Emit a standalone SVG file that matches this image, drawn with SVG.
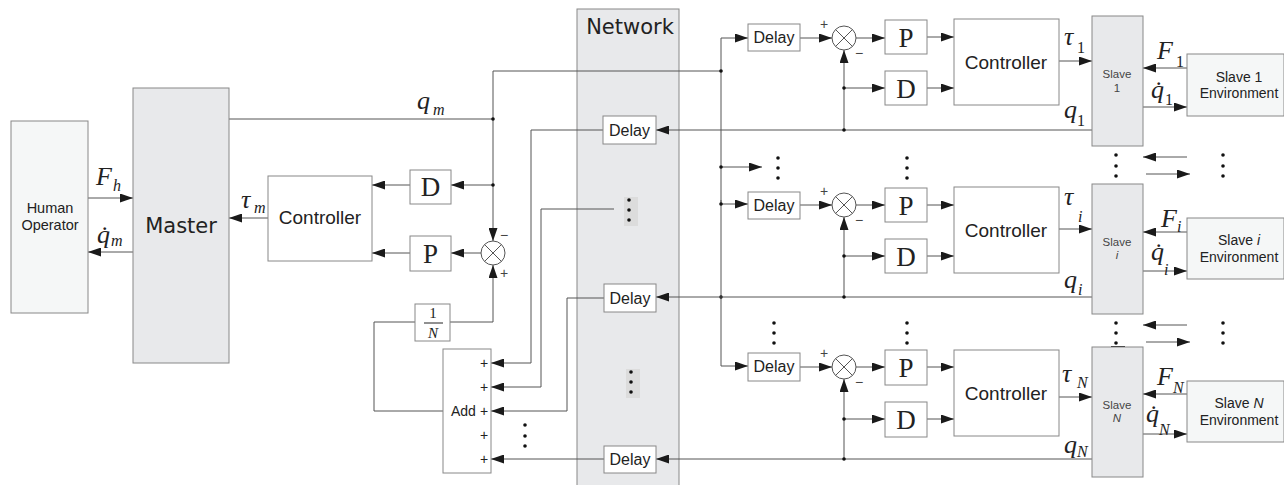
<svg xmlns="http://www.w3.org/2000/svg" width="1284" height="485" viewBox="0 0 1284 485">
<style>
.box{fill:#fff;stroke:#888;stroke-width:1}
.gbox{fill:#e8e9eb;stroke:#888;stroke-width:1}
.lbox{fill:#f5f7f7;stroke:#888;stroke-width:1}
.ln{fill:none;stroke:#555;stroke-width:1}
.arr{marker-end:url(#ah)}
.dot{fill:#111}
.sum{fill:#fff;stroke:#555;stroke-width:1}
.x{stroke:#555;stroke-width:1}
.t{font-family:"Liberation Sans",Arial,sans-serif;fill:#222}
.ctl{font-size:19px;text-anchor:middle}
.dl{font-size:16px;text-anchor:middle}
.big{font-family:"DejaVu Sans",Verdana,sans-serif;font-size:21px;text-anchor:middle;fill:#222}
.pd{font-family:"Liberation Serif","Times New Roman",serif;font-size:27px;text-anchor:middle;fill:#222}
.sm{font-size:11.5px;fill:#444;text-anchor:middle}
.env{font-size:14px;text-anchor:middle}
.ho{font-size:14.5px;text-anchor:middle}
.sg{font-family:"Liberation Sans",Arial,sans-serif;font-size:14px;fill:#444;text-anchor:middle}
.m{font-family:"Liberation Serif","Times New Roman",serif;font-style:italic;font-size:26px;fill:#222}
.sb{font-family:"Liberation Serif","Times New Roman",serif;font-style:italic;font-size:16px;fill:#222}
.sbn{font-family:"Liberation Serif","Times New Roman",serif;font-size:16px;fill:#222}
.frac{font-family:"Liberation Serif","Times New Roman",serif;font-size:15px;fill:#222;text-anchor:middle}
.dbg{fill:#dcdcdc}
</style>
<defs>
<marker id="ah" markerWidth="13" markerHeight="9" refX="13" refY="4.5" orient="auto" markerUnits="userSpaceOnUse"><path d="M0,0 L13,4.5 L0,9 z" fill="#1a1a1a"/></marker>
</defs>

<g id="network">
<rect class="gbox" x="577" y="9" width="102" height="481"/>
<text class="big" x="630" y="34">Network</text>
<rect class="dbg" x="624" y="197" width="14" height="29"/>
<circle class="dot" cx="629" cy="200" r="1.8"/><circle class="dot" cx="629" cy="210" r="1.8"/><circle class="dot" cx="629" cy="220" r="1.8"/>
<rect class="dbg" x="626" y="369" width="14" height="29"/>
<circle class="dot" cx="631" cy="372" r="1.8"/><circle class="dot" cx="631" cy="382" r="1.8"/><circle class="dot" cx="631" cy="392" r="1.8"/>
</g>

<g id="connectors">
<path class="ln arr" d="M88,198 H133"/>
<path class="ln arr" d="M133,252 H88"/>
<path class="ln arr" d="M268,218 H229"/>
<path class="ln" d="M229,119 H493"/>
<path class="ln" d="M721,71 H493 V119"/>
<path class="ln arr" d="M493,119 V241"/>
<path class="ln arr" d="M493,185 H451"/>
<path class="ln arr" d="M410,185 H372"/>
<path class="ln arr" d="M481,253 H451"/>
<path class="ln arr" d="M410,253 H372"/>
<path class="ln arr" d="M450,322 H493 V265"/>
<path class="ln" d="M443,411 H374 V322 H415"/>
<path class="ln arr" d="M603,130 H531 V363 H491"/>
<path class="ln arr" d="M614,209 H541 V387 H491"/>
<path class="ln arr" d="M604,298 H567 V411 H491"/>
<path class="ln arr" d="M604,459 H491"/>
<circle class="dot" cx="493" cy="119" r="1.8"/>
<circle class="dot" cx="493" cy="185" r="1.8"/>
<path class="ln arr" d="M721,204 V38 H748"/>
<path class="ln arr" d="M721,200 V366 H748"/>
<path class="ln arr" d="M721,167 H762"/>
<path class="ln arr" d="M721,204 H748"/>
<circle class="dot" cx="721" cy="71" r="1.8"/>
<circle class="dot" cx="721" cy="167" r="1.8"/>
<circle class="dot" cx="721" cy="204" r="1.8"/>
<circle class="dot" cx="721" cy="297" r="1.8"/>
<path class="ln arr" d="M800,38 H832"/>
<path class="ln arr" d="M856,38 H885"/>
<path class="ln arr" d="M927,37 H954"/>
<path class="ln arr" d="M927,88 H954"/>
<path class="ln arr" d="M844,130 V50"/>
<path class="ln arr" d="M844,88 H885"/>
<path class="ln arr" d="M1092,130 H656"/>
<path class="ln arr" d="M1059,61 H1092"/>
<path class="ln arr" d="M1187,68 H1143"/>
<path class="ln arr" d="M1143,107 H1187"/>
<circle class="dot" cx="844" cy="88" r="1.8"/>
<circle class="dot" cx="844" cy="130" r="1.8"/>
<path class="ln arr" d="M800,205 H832"/>
<path class="ln arr" d="M856,205 H885"/>
<path class="ln arr" d="M927,205 H954"/>
<path class="ln arr" d="M927,256 H954"/>
<path class="ln arr" d="M844,297 V217"/>
<path class="ln arr" d="M844,256 H885"/>
<path class="ln arr" d="M1092,297 H656"/>
<path class="ln arr" d="M1059,229 H1092"/>
<path class="ln arr" d="M1187,232 H1143"/>
<path class="ln arr" d="M1143,271 H1187"/>
<circle class="dot" cx="844" cy="256" r="1.8"/>
<circle class="dot" cx="844" cy="297" r="1.8"/>
<path class="ln arr" d="M800,367 H832"/>
<path class="ln arr" d="M856,367 H885"/>
<path class="ln arr" d="M927,367 H954"/>
<path class="ln arr" d="M927,419 H954"/>
<path class="ln arr" d="M844,459 V379"/>
<path class="ln arr" d="M844,419 H885"/>
<path class="ln arr" d="M1092,459 H656"/>
<path class="ln arr" d="M1059,397 H1092"/>
<path class="ln arr" d="M1187,394 H1143"/>
<path class="ln arr" d="M1143,434 H1187"/>
<circle class="dot" cx="844" cy="419" r="1.8"/>
<circle class="dot" cx="844" cy="459" r="1.8"/>
<path class="ln arr" d="M1187,157 H1143"/>
<path class="ln arr" d="M1146,174 H1190"/>
<path class="ln arr" d="M1187,325 H1143"/>
<path class="ln arr" d="M1146,342 H1190"/>
<path d="M1111,347 H1125" stroke="#111" stroke-width="2"/>
</g>

<g id="ellipses">
<circle class="dot" cx="525" cy="425" r="1.8"/><circle class="dot" cx="525" cy="436" r="1.8"/><circle class="dot" cx="525" cy="446" r="1.8"/>
<circle class="dot" cx="778" cy="158" r="1.8"/><circle class="dot" cx="778" cy="168" r="1.8"/><circle class="dot" cx="778" cy="178" r="1.8"/>
<circle class="dot" cx="907" cy="158" r="1.8"/><circle class="dot" cx="907" cy="168" r="1.8"/><circle class="dot" cx="907" cy="178" r="1.8"/>
<circle class="dot" cx="774" cy="323" r="1.8"/><circle class="dot" cx="774" cy="333" r="1.8"/><circle class="dot" cx="774" cy="343" r="1.8"/>
<circle class="dot" cx="907" cy="323" r="1.8"/><circle class="dot" cx="907" cy="333" r="1.8"/><circle class="dot" cx="907" cy="343" r="1.8"/>
<circle class="dot" cx="1116" cy="155" r="1.8"/><circle class="dot" cx="1116" cy="166" r="1.8"/><circle class="dot" cx="1116" cy="176" r="1.8"/>
<circle class="dot" cx="1223" cy="155" r="1.8"/><circle class="dot" cx="1223" cy="166" r="1.8"/><circle class="dot" cx="1223" cy="176" r="1.8"/>
<circle class="dot" cx="1116" cy="323" r="1.8"/><circle class="dot" cx="1116" cy="333" r="1.8"/><circle class="dot" cx="1116" cy="343" r="1.8"/>
<circle class="dot" cx="1223" cy="323" r="1.8"/><circle class="dot" cx="1223" cy="333" r="1.8"/><circle class="dot" cx="1223" cy="343" r="1.8"/>
</g>

<g id="human">
<rect class="lbox" x="11" y="121" width="77" height="192"/>
<text class="t ho" x="50" y="213">Human</text>
<text class="t ho" x="50" y="230">Operator</text>
</g>
<g id="master">
<rect class="gbox" x="133" y="88" width="96" height="275"/>
<text class="big" x="181" y="233">Master</text>
</g>
<g id="master-controller">
<rect class="box" x="268" y="176" width="104" height="85"/>
<text class="t ctl" x="320" y="224">Controller</text>
</g>
<g id="master-D">
<rect class="box" x="410" y="170" width="41" height="34"/>
<text class="pd" x="430.5" y="196">D</text>
</g>
<g id="master-P">
<rect class="box" x="410" y="236" width="41" height="35"/>
<text class="pd" x="430.5" y="263">P</text>
</g>
<g id="master-sum">
<circle class="sum" cx="493" cy="253" r="12"/>
<path class="x" d="M484.5,244.5 L501.5,261.5 M501.5,244.5 L484.5,261.5"/>
<text class="sg" x="504" y="240">−</text>
<text class="sg" x="504" y="278">+</text>
</g>
<g id="one-over-N">
<rect class="box" x="415" y="304" width="35" height="37"/>
<text class="frac" x="433" y="318">1</text>
<path d="M424,323 H443" stroke="#222" stroke-width="1"/>
<text class="frac" x="433" y="338" font-style="italic">N</text>
</g>
<g id="add">
<rect class="box" x="443" y="349" width="48" height="124"/>
<text class="t" x="451" y="416" font-size="14">Add</text>
<text class="t" x="484" y="368" font-size="14" text-anchor="middle">+</text>
<text class="t" x="484" y="392" font-size="14" text-anchor="middle">+</text>
<text class="t" x="484" y="416" font-size="14" text-anchor="middle">+</text>
<text class="t" x="484" y="440" font-size="14" text-anchor="middle">+</text>
<text class="t" x="484" y="464" font-size="14" text-anchor="middle">+</text>
</g>
<g id="net-delay-1">
<rect class="box" x="603" y="116" width="53" height="28"/>
<text class="t dl" x="629.5" y="136">Delay</text>
</g>
<g id="net-delay-i">
<rect class="box" x="604" y="284" width="52" height="28"/>
<text class="t dl" x="630" y="304">Delay</text>
</g>
<g id="net-delay-N">
<rect class="box" x="604" y="446" width="52" height="27"/>
<text class="t dl" x="630" y="465">Delay</text>
</g>

<g id="delay-1"><rect class="box" x="748" y="24" width="52" height="27"/><text class="t dl" x="774" y="43">Delay</text></g>
<g id="sum-1"><circle class="sum" cx="844" cy="38" r="12"/><path class="x" d="M835.5,29.5 L852.5,46.5 M852.5,29.5 L835.5,46.5"/><text class="sg" x="824" y="29">+</text><text class="sg" x="859" y="58">−</text></g>
<g id="P-1"><rect class="box" x="885" y="20" width="42" height="34"/><text class="pd" x="906" y="47">P</text></g>
<g id="D-1"><rect class="box" x="885" y="71" width="42" height="34"/><text class="pd" x="906" y="98">D</text></g>
<g id="controller-1"><rect class="box" x="954" y="19" width="105" height="86"/><text class="t ctl" x="1006" y="69">Controller</text></g>
<g id="slave-1"><rect class="gbox" x="1092" y="16" width="51" height="130"/><text class="t sm" x="1117" y="78">Slave</text><text class="t sm" x="1117" y="92">1</text></g>
<g id="env-1"><rect class="lbox" x="1187" y="54" width="97" height="62"/><text class="t env" x="1239" y="82">Slave 1</text><text class="t env" x="1239" y="98">Environment</text></g>

<g id="delay-i"><rect class="box" x="748" y="192" width="52" height="27"/><text class="t dl" x="774" y="211">Delay</text></g>
<g id="sum-i"><circle class="sum" cx="844" cy="205" r="12"/><path class="x" d="M835.5,196.5 L852.5,213.5 M852.5,196.5 L835.5,213.5"/><text class="sg" x="824" y="196">+</text><text class="sg" x="859" y="225">−</text></g>
<g id="P-i"><rect class="box" x="885" y="188" width="42" height="34"/><text class="pd" x="906" y="215">P</text></g>
<g id="D-i"><rect class="box" x="885" y="239" width="42" height="34"/><text class="pd" x="906" y="266">D</text></g>
<g id="controller-i"><rect class="box" x="954" y="187" width="105" height="86"/><text class="t ctl" x="1006" y="237">Controller</text></g>
<g id="slave-i"><rect class="gbox" x="1092" y="184" width="51" height="130"/><text class="t sm" x="1117" y="246">Slave</text><text class="t sm" x="1117" y="259" font-style="italic">i</text></g>
<g id="env-i"><rect class="lbox" x="1187" y="218" width="97" height="61"/><text class="t env" x="1239" y="245">Slave <tspan font-style="italic">i</tspan></text><text class="t env" x="1239" y="262">Environment</text></g>

<g id="delay-N"><rect class="box" x="748" y="353" width="52" height="28"/><text class="t dl" x="774" y="372">Delay</text></g>
<g id="sum-N"><circle class="sum" cx="844" cy="367" r="12"/><path class="x" d="M835.5,358.5 L852.5,375.5 M852.5,358.5 L835.5,375.5"/><text class="sg" x="824" y="358">+</text><text class="sg" x="859" y="387">−</text></g>
<g id="P-N"><rect class="box" x="885" y="350" width="42" height="35"/><text class="pd" x="906" y="377">P</text></g>
<g id="D-N"><rect class="box" x="885" y="402" width="42" height="35"/><text class="pd" x="906" y="429">D</text></g>
<g id="controller-N"><rect class="box" x="954" y="350" width="105" height="86"/><text class="t ctl" x="1006" y="400">Controller</text></g>
<g id="slave-N"><rect class="gbox" x="1092" y="347" width="51" height="130"/><text class="t sm" x="1117" y="409">Slave</text><text class="t sm" x="1117" y="422" font-style="italic">N</text></g>
<g id="env-N"><rect class="lbox" x="1187" y="381" width="97" height="61"/><text class="t env" x="1239" y="408">Slave <tspan font-style="italic">N</tspan></text><text class="t env" x="1239" y="425">Environment</text></g>

<g id="labels">
<text class="m" x="96" y="185">F</text><text class="sb" x="113" y="191">h</text>
<text class="m" x="97" y="243">q̇</text><text class="sb" x="111" y="246">m</text>
<text class="m" x="241" y="208">τ</text><text class="sb" x="254" y="213">m</text>
<text class="m" x="417" y="109" font-size="28">q</text><text class="sb" x="433" y="115">m</text>
<text class="m" x="1064" y="45">τ</text><text class="sbn" x="1077" y="53">1</text>
<text class="m" x="1157" y="59">F</text><text class="sbn" x="1176" y="67">1</text>
<text class="m" x="1151" y="98">q̇</text><text class="sbn" x="1165" y="105">1</text>
<text class="m" x="1064" y="118">q</text><text class="sbn" x="1077" y="126">1</text>
<text class="m" x="1064" y="205">τ</text><text class="sb" x="1078" y="222">i</text>
<text class="m" x="1161" y="227">F</text><text class="sb" x="1177" y="232">i</text>
<text class="m" x="1151" y="260">q̇</text><text class="sb" x="1164" y="275">i</text>
<text class="m" x="1064" y="288">q</text><text class="sb" x="1078" y="295">i</text>
<text class="m" x="1062" y="382">τ</text><text class="sb" x="1077" y="388">N</text>
<text class="m" x="1157" y="385">F</text><text class="sb" x="1173" y="393">N</text>
<text class="m" x="1146" y="422">q̇</text><text class="sb" x="1159" y="435">N</text>
<text class="m" x="1064" y="453">q</text><text class="sb" x="1077" y="457">N</text>
</g>
</svg>
